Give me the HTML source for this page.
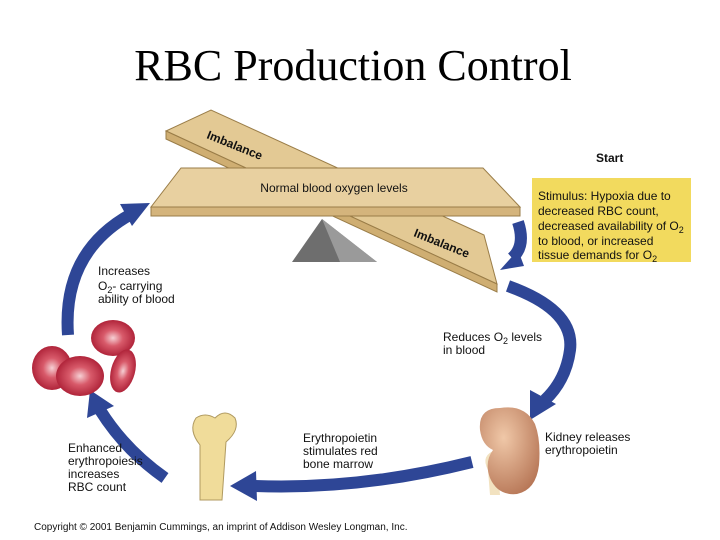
<!DOCTYPE html>
<html><head><meta charset="utf-8"><style>
html,body{margin:0;padding:0;background:#fff;}
svg{display:block}
.t{font-family:"Liberation Sans",sans-serif;font-size:12px;fill:#111}
</style></head><body>
<svg width="720" height="540" viewBox="0 0 720 540">
<defs>
<radialGradient id="rbc" cx="0.5" cy="0.5" r="0.5"><stop offset="0" stop-color="#f6d0d4"/><stop offset="0.45" stop-color="#d85a6a"/><stop offset="1" stop-color="#b0243a"/></radialGradient>
<radialGradient id="kid" cx="0.4" cy="0.35" r="0.7"><stop offset="0" stop-color="#f0c8a8"/><stop offset="1" stop-color="#b87858"/></radialGradient>
</defs>
<text x="353" y="80" text-anchor="middle" font-family="Liberation Serif,serif" font-size="44">RBC Production Control</text>

<polygon points="166,131 211,110 484,235 497,284" fill="#e3c994" stroke="#9a7d48" stroke-width="1"/>
<polygon points="166,131 497,284 497,292 166,139" fill="#cfae72" stroke="#9a7d48" stroke-width="1"/>
<text class="t" font-weight="bold" transform="translate(206,138) rotate(22)">Imbalance</text>
<text class="t" font-weight="bold" transform="translate(413,236) rotate(22)">Imbalance</text>
<polygon points="292,262 322,219 377,262" fill="#6e6e6e"/>
<polygon points="322,219 377,262 340,262" fill="#9a9a9a"/>
<polygon points="181,168 483,168 520,207 151,207" fill="#e8d0a0" stroke="#9a7d48" stroke-width="1"/>
<rect x="151" y="207" width="369" height="9" fill="#d4b47c" stroke="#9a7d48" stroke-width="1"/>
<text class="t" x="334" y="192" text-anchor="middle">Normal blood oxygen levels</text>

<text class="t" x="596" y="162" font-weight="bold">Start</text>
<rect x="532" y="178" width="159" height="84" fill="#f2da5e"/>
<text class="t" x="538" y="200">Stimulus: Hypoxia due to</text>
<text class="t" x="538" y="215">decreased RBC count,</text>
<text class="t" x="538" y="230">decreased availability of  O<tspan font-size="9" dy="3">2</tspan></text>
<text class="t" x="538" y="245">to blood, or increased</text>
<text class="t" x="538" y="259">tissue demands for O<tspan font-size="9" dy="3">2</tspan></text>

<g fill="none" stroke="#2e4696" stroke-width="12">
<path d="M518,222 Q526,246 512,258"/>
<path d="M508,286 Q575,310 570,350 Q566,380 545,400"/>
<path d="M472,462 Q360,490 255,486"/>
<path d="M165,478 Q125,450 100,410"/>
<path d="M68,335 Q62,250 135,212"/>
</g>
<g fill="#2e4696">
<polygon points="500,270 518,250 524,266"/>
<polygon points="530,420 530,390 556,404"/>
<polygon points="230,486 256,471 257,501"/>
<polygon points="90,390 87,418 114,406"/>
<polygon points="150,203 120,204 132,226"/>
</g>

<text class="t" x="98" y="275">Increases</text>
<text class="t" x="98" y="290">O<tspan font-size="9" dy="3">2</tspan><tspan dy="-3">- carrying</tspan></text>
<text class="t" x="98" y="303">ability of blood</text>
<text class="t" x="443" y="341">Reduces O<tspan font-size="9" dy="3">2</tspan><tspan dy="-3"> levels</tspan></text>
<text class="t" x="443" y="354">in blood</text>
<text class="t" x="545" y="441">Kidney releases</text>
<text class="t" x="545" y="454">erythropoietin</text>
<text class="t" x="303" y="442">Erythropoietin</text>
<text class="t" x="303" y="455">stimulates red</text>
<text class="t" x="303" y="468">bone marrow</text>
<text class="t" x="68" y="452">Enhanced</text>
<text class="t" x="68" y="465">erythropoiesis</text>
<text class="t" x="68" y="478">increases</text>
<text class="t" x="68" y="491">RBC count</text>
<text x="34" y="530" font-family="Liberation Sans,sans-serif" font-size="10" fill="#111">Copyright © 2001 Benjamin Cummings, an imprint of Addison Wesley Longman, Inc.</text>

<ellipse cx="113" cy="338" rx="22" ry="18" fill="url(#rbc)"/>
<ellipse cx="52" cy="368" rx="20" ry="22" fill="url(#rbc)"/>
<ellipse cx="80" cy="376" rx="24" ry="20" fill="url(#rbc)"/>
<ellipse cx="123" cy="371" rx="12" ry="22" transform="rotate(15 123 371)" fill="url(#rbc)"/>

<path d="M200,500 L200,445 Q188,430 196,418 Q205,412 215,418 Q225,408 235,418 Q240,430 226,442 L222,500 Z" fill="#f0dc9a" stroke="#b09a60"/>

<path d="M488,470 Q480,455 496,450 L500,495 L490,495 Z" fill="#f2e2c0"/>
<path d="M500,408 Q478,408 480,430 Q482,445 493,450 Q484,462 490,478 Q498,496 517,494 Q536,490 539,465 Q541,440 535,424 Q525,404 500,408 Z" fill="url(#kid)"/>
</svg>
</body></html>
